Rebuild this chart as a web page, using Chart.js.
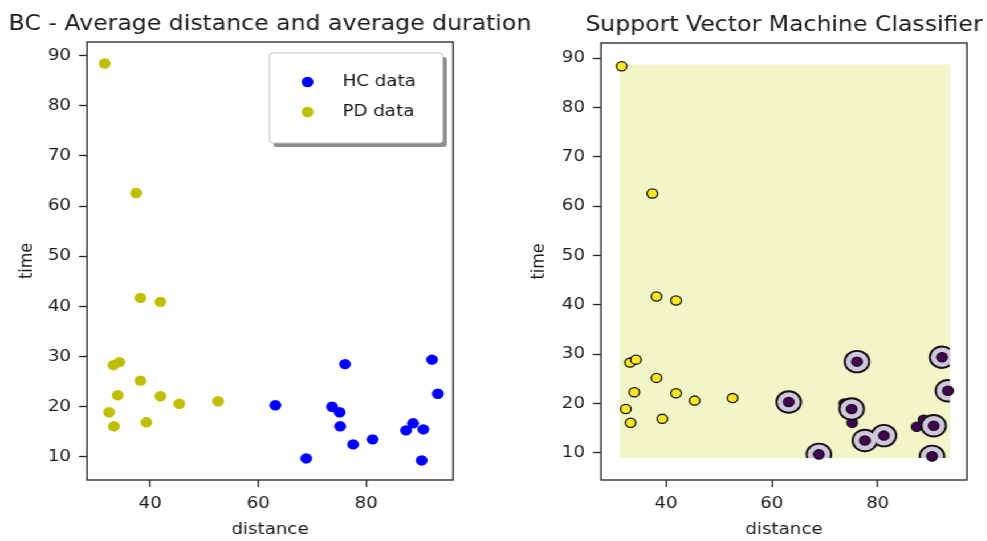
<!DOCTYPE html>
<html lang="en">
<head>
  <meta charset="UTF-8">
  <title>BC - distance / duration and SVM classifier</title>
  <script src="https://cdn.jsdelivr.net/npm/chart.js"></script>
  <style>
    html, body { margin: 0; padding: 0; background: #fff; }
    body { width: 987px; height: 541px; overflow: hidden; position: relative; }
    /* the figure is drawn narrow and stretched sideways */
    #figure { position: absolute; left: 0; top: 0; width: 866px; height: 541px;
              transform: scaleX(1.14); transform-origin: 0 0; }
    #figure canvas { position: absolute; top: 0; }
    #distChart { left: 0; }
    #svmChart { left: 456px; }
  </style>
</head>
<body>
  <div id="figure">
    <canvas id="distChart" width="478" height="541"></canvas>
    <canvas id="svmChart" width="410" height="541"></canvas>
  </div>

  <script>
    // average distance / average duration per subject
    const hcDistance = [63.2, 68.9, 73.7, 75.1, 75.2, 76.1, 77.6, 81.2, 87.4, 88.7, 90.6, 90.3, 92.2, 93.3];
    const hcTime     = [20.3, 9.7, 20.0, 18.9, 16.1, 28.5, 12.5, 13.5, 15.3, 16.7, 15.5, 9.3, 29.4, 22.6];
    const pdDistance = [31.6, 37.4, 38.2, 41.9, 33.2, 34.3, 38.2, 34.0, 41.9, 45.4, 52.6, 32.4, 33.3, 39.3];
    const pdTime     = [88.4, 62.6, 41.7, 40.9, 28.3, 28.9, 25.2, 22.3, 22.1, 20.6, 21.1, 18.9, 16.1, 16.9];

    // indices (into the HC arrays) of the support vectors
    const supportVectors = [0, 1, 3, 5, 6, 7, 10, 11, 12, 13];

    const distanceTicks = [40, 60, 80];
    const timeTicks = [10, 20, 30, 40, 50, 60, 70, 80, 90];

    const toPoints = (xs, ys) => xs.map((x, i) => ({ x: x, y: ys[i] }));
    const hcPoints = toPoints(hcDistance, hcTime);
    const pdPoints = toPoints(pdDistance, pdTime);
    const svPoints = supportVectors.map(i => hcPoints[i]);

    // decision region spans the data range
    const allDistance = hcDistance.concat(pdDistance);
    const allTime = hcTime.concat(pdTime);
    const regionPad = 0.35;
    const regionX = [Math.min(...allDistance) - regionPad, Math.max(...allDistance) + regionPad];
    const regionY = [Math.min(...allTime) - regionPad, Math.max(...allTime) + regionPad];

    Chart.defaults.font.family = '"DejaVu Sans", sans-serif';
    Chart.defaults.font.size = 16;
    Chart.defaults.color = '#1a1a1a';
    Chart.defaults.animation = false;
    Chart.defaults.plugins.legend.display = false;
    Chart.defaults.plugins.tooltip.enabled = false;

    function scaleOptions(xRange, yRange, yWidth, yTitleGap) {
      return {
        x: {
          type: 'linear', min: xRange[0], max: xRange[1],
          afterBuildTicks: s => { s.ticks = distanceTicks.map(v => ({ value: v })); },
          afterFit: s => { s.height = 61; },
          grid: { drawOnChartArea: false, tickLength: 7, tickWidth: 1.3, tickColor: '#222' },
          border: { display: false },
          ticks: { padding: 7, maxRotation: 0 },
          title: { display: true, text: 'distance', padding: { top: 0, bottom: 2 } }
        },
        y: {
          type: 'linear', min: yRange[0], max: yRange[1],
          afterBuildTicks: s => { s.ticks = timeTicks.map(v => ({ value: v })); },
          afterFit: s => { s.width = yWidth; },
          grid: { drawOnChartArea: false, tickLength: 7, tickWidth: 1.3, tickColor: '#222' },
          border: { display: false },
          ticks: { padding: 7 },
          title: { display: true, text: 'time', padding: { top: yTitleGap, bottom: 0 } }
        }
      };
    }

    const axesTitle = {
      id: 'axesTitle',
      afterDraw(chart, args, opts) {
        const { ctx, chartArea: a } = chart;
        ctx.save();
        ctx.font = '20.7px "DejaVu Sans", sans-serif';
        ctx.fillStyle = '#1a1a1a';
        ctx.textAlign = 'center';
        ctx.textBaseline = 'alphabetic';
        ctx.fillText(opts.text, (a.left + a.right) / 2, a.top - 12);
        ctx.restore();
      }
    };

    const frame = {
      id: 'frame',
      afterDatasetsDraw(chart) {
        const { ctx, chartArea: a } = chart;
        ctx.save();
        ctx.strokeStyle = '#222';
        ctx.lineWidth = 1.3;
        ctx.strokeRect(a.left, a.top, a.right - a.left, a.bottom - a.top);
        ctx.restore();
      }
    };

    function roundedBox(ctx, x, y, w, h, r) {
      ctx.beginPath();
      if (ctx.roundRect) ctx.roundRect(x, y, w, h, r);
      else ctx.rect(x, y, w, h);
    }

    // framed legend with a drop shadow, top right inside the axes
    const boxLegend = {
      id: 'boxLegend',
      afterDraw(chart) {
        const { ctx, chartArea: a } = chart;
        const w = 152, h = 90;
        const x = a.right - 9 - w, y = a.top + 11;
        ctx.save();
        ctx.fillStyle = 'rgba(0,0,0,0.45)';
        roundedBox(ctx, x + 3.5, y + 4, w, h, 3);
        ctx.fill();
        ctx.fillStyle = '#fff';
        ctx.strokeStyle = '#c4c4c4';
        ctx.lineWidth = 1;
        roundedBox(ctx, x, y, w, h, 3);
        ctx.fill();
        ctx.stroke();
        ctx.font = '16px "DejaVu Sans", sans-serif';
        ctx.textBaseline = 'middle';
        chart.data.datasets.forEach((ds, i) => {
          const cy = y + 29 + i * 30;
          ctx.beginPath();
          ctx.arc(x + 33.4, cy, 5.2, 0, Math.PI * 2);
          ctx.fillStyle = ds.backgroundColor;
          ctx.fill();
          ctx.fillStyle = '#1a1a1a';
          ctx.fillText(ds.label, x + 64, cy);
        });
        ctx.restore();
      }
    };

    new Chart(document.getElementById('distChart'), {
      type: 'scatter',
      data: {
        datasets: [
          { label: 'HC data', data: hcPoints, backgroundColor: '#0000ff', pointRadius: 5.2, borderWidth: 0 },
          { label: 'PD data', data: pdPoints, backgroundColor: '#bfbf00', pointRadius: 5.2, borderWidth: 0 }
        ]
      },
      options: {
        responsive: false,
        layout: { padding: { left: 0, top: 42, right: 80.6, bottom: 0 } },
        scales: scaleOptions([28.3, 96.1], [5.4, 92.7], 76.3, 14.1),
        plugins: { axesTitle: { text: 'BC - Average distance and average duration' } }
      },
      plugins: [axesTitle, frame, boxLegend]
    });

    // pale predicted-class area behind the points
    const decisionRegion = {
      id: 'decisionRegion',
      beforeDatasetsDraw(chart) {
        const { ctx, scales: { x, y } } = chart;
        const l = x.getPixelForValue(regionX[0]), r = x.getPixelForValue(regionX[1]);
        const t = y.getPixelForValue(regionY[1]), b = y.getPixelForValue(regionY[0]);
        ctx.save();
        ctx.fillStyle = '#f1f5c7';
        ctx.fillRect(l, t, r - l, b - t);
        ctx.restore();
      },
      beforeDatasetDraw(chart, args) {
        if (!chart.data.datasets[args.index].clipToRegion) return;
        const { ctx, scales: { x, y } } = chart;
        const l = x.getPixelForValue(regionX[0]), r = x.getPixelForValue(regionX[1]);
        const t = y.getPixelForValue(regionY[1]), b = y.getPixelForValue(regionY[0]);
        ctx.save();
        ctx.beginPath();
        ctx.rect(l, t, r - l, b - t);
        ctx.clip();
      },
      afterDatasetDraw(chart, args) {
        if (chart.data.datasets[args.index].clipToRegion) chart.ctx.restore();
      }
    };

    new Chart(document.getElementById('svmChart'), {
      type: 'scatter',
      data: {
        datasets: [
          { label: 'HC', data: hcPoints, backgroundColor: '#440154', borderColor: '#111',
            borderWidth: 1.3, pointRadius: 4.6, order: 4 },
          { label: 'PD', data: pdPoints, backgroundColor: '#fde725', borderColor: '#111',
            borderWidth: 1.3, pointRadius: 4.6, order: 4 },
          { label: 'SV edge', data: svPoints, backgroundColor: '#111', borderWidth: 0,
            pointRadius: 11.7, order: 3, clipToRegion: true },
          { label: 'SV fill', data: svPoints, backgroundColor: '#d0c7de', borderWidth: 0,
            pointRadius: 9.8, order: 2, clipToRegion: true },
          { label: 'SV', data: svPoints, backgroundColor: '#440154', borderColor: '#111',
            borderWidth: 1.3, pointRadius: 4.6, order: 1 }
        ]
      },
      options: {
        responsive: false,
        layout: { padding: { left: 0, top: 43, right: 17.8, bottom: 0 } },
        scales: scaleOptions([27.7, 96.9], [4.5, 93.1], 71.2, 7.2),
        plugins: { axesTitle: { text: 'Support Vector Machine Classifier' } }
      },
      plugins: [decisionRegion, axesTitle, frame]
    });
  </script>
</body>
</html>
